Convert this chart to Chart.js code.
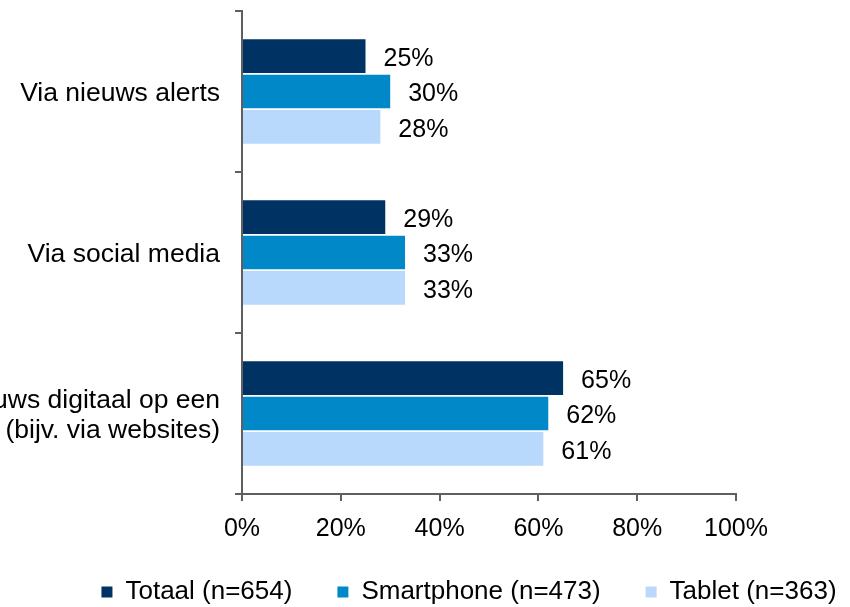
<!DOCTYPE html>
<html>
<head>
<meta charset="utf-8">
<script src="https://cdn.jsdelivr.net/npm/chart.js@4"></script>
<style>
  html, body { margin: 0; padding: 0; background: #fff; }
  #wrap { width: 850px; height: 607px; }
</style>
</head>
<body>
<div id="wrap"><canvas id="chart"></canvas></div>
<script>
// categories, top to bottom
const categories = [
  "Via nieuws alerts",
  "Via social media",
  ["Nieuws digitaal op een", "(bijv. via websites)"]
];
// percentages per device group
const totaal = [25, 29, 65];
const smartphone = [30, 33, 62];
const tablet = [28, 33, 61];
const seriesNames = ["Totaal (n=654)", "Smartphone (n=473)", "Tablet (n=363)"];
const xTicks = [0, 20, 40, 60, 80, 100];

const FONT = "'Liberation Sans', Arial, sans-serif";
const AXIS = "#5f5f5f";

/*
  @desc: writes the value right next to each bar
*/
const valueLabels = {
  id: "valueLabels",
  afterDatasetsDraw(chart) {
    const ctx = chart.ctx;
    ctx.save();
    ctx.font = "25px " + FONT;
    ctx.fillStyle = "#000";
    ctx.textAlign = "left";
    ctx.textBaseline = "middle";
    chart.data.datasets.forEach((ds, i) => {
      chart.getDatasetMeta(i).data.forEach((bar, j) => {
        ctx.fillText(ds.data[j] + "%", bar.x + 18, bar.y + 3);
      });
    });
    ctx.restore();
  }
};

/*
  @desc: the legend in the picture sits right of the canvas centre
*/
const legendShift = {
  id: "legendShift",
  afterLayout(chart) {
    chart.legend.left += 44;
    chart.legend.right += 44;
    chart.legend.top -= 8;
    chart.legend.bottom -= 8;
  }
};

let config = {
  type: "bar",
  data: {
    labels: categories,
    datasets: [
      { label: seriesNames[0], data: totaal, backgroundColor: "#003263" },
      { label: seriesNames[1], data: smartphone, backgroundColor: "#0088c9" },
      { label: seriesNames[2], data: tablet, backgroundColor: "#b8d9fb" }
    ]
  },
  options: {
    indexAxis: "y",
    responsive: true,
    maintainAspectRatio: false,
    animation: false,
    categoryPercentage: 0.66,
    barPercentage: 0.95,
    layout: { padding: { top: 11, left: 0, right: 0, bottom: -16 } },
    scales: {
      x: {
        min: 0,
        max: 100,
        afterBuildTicks(s) { s.ticks = xTicks.map(v => ({ value: v })); },
        afterFit(s) { s.height = 48; },
        border: { color: AXIS, width: 2 },
        grid: { drawOnChartArea: false, color: AXIS, lineWidth: 2, tickLength: 7 },
        ticks: {
          color: "#000",
          padding: 13,
          font: { family: FONT, size: 25 },
          callback: v => v + "%"
        }
      },
      y: {
        border: { color: AXIS, width: 2 },
        grid: { drawOnChartArea: false, color: AXIS, lineWidth: 2, tickLength: 7, offset: true },
        afterFit(s) {
          s.width = 242;
          s.paddingTop = 0;
          s.paddingBottom = 0;
        },
        ticks: {
          color: "#000",
          padding: 15,
          labelOffset: 2,
          font: { family: FONT, size: 26.5, lineHeight: 1.13 }
        }
      },
      yRight: {
        type: "category",
        position: "right",
        display: true,
        grid: { display: false },
        border: { display: false },
        ticks: { display: false },
        afterFit(s) { s.width = 114; }
      }
    },
    plugins: {
      tooltip: { enabled: false },
      legend: {
        position: "bottom",
        labels: {
          boxWidth: 11,
          boxHeight: 11,
          padding: 45,
          color: "#000",
          font: { family: FONT, size: 26 }
        }
      }
    }
  },
  plugins: [valueLabels, legendShift]
};

const chart = new Chart(document.getElementById("chart"), config);
</script>
</body>
</html>
